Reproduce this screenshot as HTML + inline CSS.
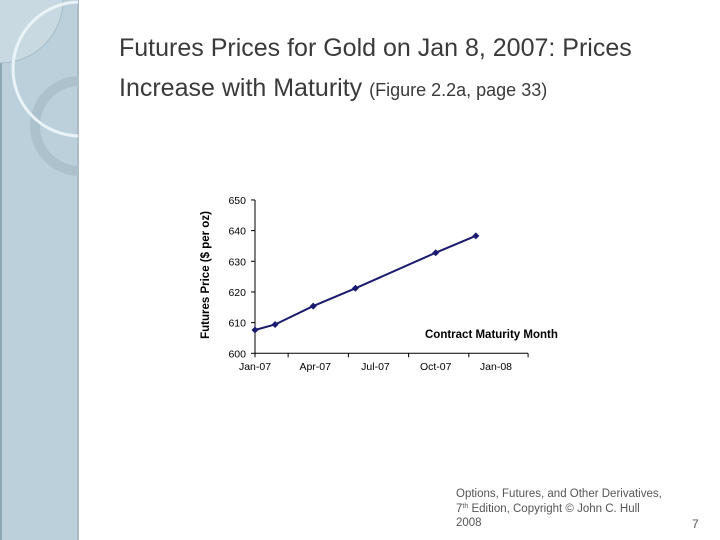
<!DOCTYPE html>
<html><head><meta charset="utf-8"><style>
body{margin:0;width:720px;height:540px;background:#fff;position:relative;overflow:hidden;font-family:"Liberation Sans",sans-serif}
.t{position:absolute;white-space:nowrap}
sup{line-height:0;vertical-align:4px}
</style></head><body>
<svg width="720" height="540" style="position:absolute;left:0;top:0">
<g>
<clipPath id="cp"><rect x="0" y="0" width="78" height="540"/></clipPath>
<rect x="0" y="0" width="79" height="540" fill="#bcd0dc"/>
<rect x="0" y="0" width="2" height="540" fill="#8fa6b4"/>
<rect x="77" y="0" width="2" height="540" fill="#a9bcc8"/>
<circle cx="0" cy="0" r="63" fill="#c8d9e2" stroke="#9fb4c0" stroke-width="0.7" clip-path="url(#cp)"/>
<circle cx="80" cy="126" r="45" fill="none" stroke="#adc1cd" stroke-width="10" clip-path="url(#cp)"/>
<circle cx="80" cy="69" r="67" fill="none" stroke="#eaf3f8" stroke-width="3" clip-path="url(#cp)"/>
</g>
<g id="chart"></g>
</svg>
<div class="t" style="left:119px;top:28px;font-size:25px;color:#3a3a3a;line-height:40px">Futures Prices for Gold on Jan 8, 2007: Prices<br>Increase with Maturity <span style="font-size:18px">(Figure 2.2a, page 33)</span></div>
<div class="t" style="left:456px;top:487px;font-size:11.5px;color:#555;line-height:14.5px">Options, Futures, and Other Derivatives,<br>7<sup style="font-size:7px">th</sup> Edition, Copyright © John C. Hull<br>2008</div>
<div class="t" style="left:692px;top:517px;font-size:12px;color:#555">7</div>
<script>
const months=[0,1,2.9,5,9,11];
const prices=[607.6,609.4,615.4,621.2,632.8,638.3];
const yTicks=[600,610,620,630,640,650];
const xLabels=["Jan-07","Apr-07","Jul-07","Oct-07","Jan-08"];
const xLabelMonths=[0,3,6,9,12];
const xTickMonths=[0,1.65,4.65,7.65,10.65,13.6];
const NS="http://www.w3.org/2000/svg";
const g=document.getElementById('chart');
const X=m=>255+m*20.08, Y=v=>353.3-(v-600)*3.067;
function el(t,a,txt){const e=document.createElementNS(NS,t);for(const k in a)e.setAttribute(k,a[k]);if(txt!=null)e.textContent=txt;g.appendChild(e);return e;}
let e=el('line',{x1:255,y1:Y(650),x2:255,y2:Y(600),stroke:'#000'});


e=el('line',{x1:255,y1:Y(600),x2:X(13.6),y2:Y(600),stroke:'#000'});


yTicks.forEach(v=>{
 let l=el('line',{x1:251,y1:Y(v),x2:255,y2:Y(v),stroke:'#000'});
 
 
 let t=el('text',{x:246,y:Y(v)+4,'text-anchor':'end','font-size':10.5,'font-family':'Liberation Sans'},v);
 
 
});
xTickMonths.forEach(m=>{
 let l=el('line',{x1:X(m),y1:Y(600),x2:X(m),y2:Y(600)+4,stroke:'#000'});
 
 
});
xLabels.forEach((s,i)=>{
 let t=el('text',{x:X(xLabelMonths[i]),y:370,'text-anchor':'middle','font-size':10.5,'font-family':'Liberation Sans'},s);
 
 
});
let pts=months.map((m,i)=>X(m)+','+Y(prices[i])).join(' ');
e=el('polyline',{points:pts,fill:'none',stroke:'#1a1a6e','stroke-width':2});


months.forEach((m,i)=>{
 const x=X(m),y=Y(prices[i]);
 let p=el('polygon',{points:`${x},${y-3.5} ${x+3.5},${y} ${x},${y+3.5} ${x-3.5},${y}`,fill:'#1a1a6e'});
 
 
});
e=el('text',{x:425,y:338,'font-size':11.5,'font-weight':'bold','font-family':'Liberation Sans'},'Contract Maturity Month');


e=el('text',{x:0,y:0,'font-size':11.5,'font-weight':'bold','font-family':'Liberation Sans','text-anchor':'middle',transform:'translate(209,275) rotate(-90)'},'Futures Price ($ per oz)');


</script>
</body></html>
